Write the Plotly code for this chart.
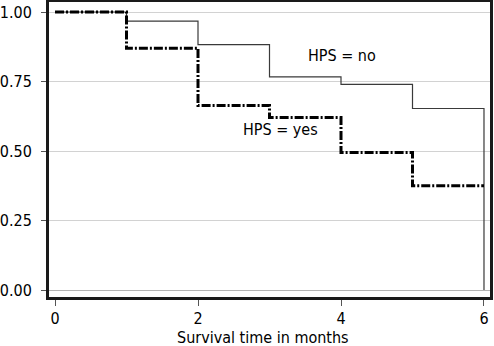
import plotly.graph_objects as go

# Data (Kaplan-Meier survival estimates)
months = [0, 1, 2, 3, 4, 5, 6]
surv_no = [1.00, 0.967, 0.883, 0.767, 0.740, 0.653, 0.00]
surv_yes = [1.00, 0.870, 0.664, 0.621, 0.495, 0.375, 0.375]
label_no = "HPS = no"
label_yes = "HPS = yes"
x_ticks = [0, 2, 4, 6]
y_ticks = [0.00, 0.25, 0.50, 0.75, 1.00]
y_ticklabels = ["0.00", "0.25", "0.50", "0.75", "1.00"]
x_title = "Survival time in months"

FONT = "DejaVu Sans Condensed, Liberation Sans, Arial, sans-serif"

fig = go.Figure()
fig.add_trace(go.Scatter(
    x=months, y=surv_no, mode="lines", line_shape="hv",
    line=dict(color="#3a3a3a", width=1.2), name=label_no, showlegend=False,
))
fig.add_trace(go.Scatter(
    x=months, y=surv_yes, mode="lines", line_shape="hv",
    line=dict(color="black", width=3, dash="9px,2px,2px,2px"),
    name=label_yes, showlegend=False,
))

fig.add_annotation(x=4.01, y=0.845, text=label_no, showarrow=False,
                   font=dict(family=FONT, size=16, color="black"))
fig.add_annotation(x=3.15, y=0.576, text=label_yes, showarrow=False,
                   font=dict(family=FONT, size=16, color="black"))
fig.add_annotation(x=0.485, y=-0.136, xref="paper", yref="paper",
                   text=x_title, showarrow=False, yanchor="middle",
                   font=dict(family=FONT, size=16, color="black"))

fig.update_layout(
    width=494, height=346,
    margin=dict(l=49, r=4, t=2, b=49, autoexpand=False),
    paper_bgcolor="white", plot_bgcolor="white",
    font=dict(family=FONT, size=16, color="black"),
    showlegend=False,
)
fig.update_xaxes(
    range=[-0.084, 6.084], tickvals=x_ticks, automargin=False,
    showgrid=False, zeroline=False,
    showline=True, linecolor="#1a1a1a", linewidth=3, mirror=True,
    ticks="outside", ticklen=6, tickwidth=1, tickcolor="#555555",
    ticklabelstandoff=-1,
    tickfont=dict(size=16),
)
fig.update_yaxes(
    range=[-0.025, 1.036], tickvals=y_ticks, ticktext=y_ticklabels,
    automargin=False,
    showgrid=True, gridcolor="#d2d2d2", gridwidth=1,
    zeroline=True, zerolinecolor="#b4b4b4", zerolinewidth=1,
    showline=True, linecolor="#1a1a1a", linewidth=3, mirror=True,
    ticks="outside", ticklen=5, tickwidth=1, tickcolor="#555555",
    ticklabelstandoff=6,
    tickfont=dict(size=16),
)

fig.write_html(
    "out.html",
    config={"displayModeBar": False},
    post_script="document.body.style.margin='0';document.body.style.overflow='hidden';",
)
